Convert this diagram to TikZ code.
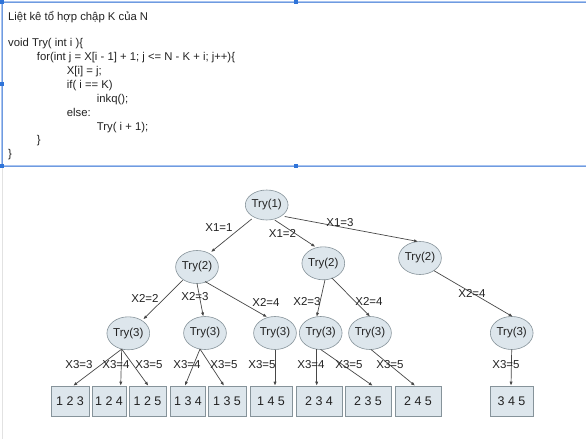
\documentclass[tikz,border=0pt]{standalone}
\usepackage{fontspec}
\setmainfont{Liberation Sans}
\usetikzlibrary{shapes.geometric,arrows.meta}
\definecolor{nodefill}{HTML}{DDE6EC}
\definecolor{nodeline}{HTML}{86939A}
\definecolor{edgecol}{HTML}{474747}
\definecolor{txtcol}{HTML}{222222}
\definecolor{selblue}{HTML}{A9C4F0}
\definecolor{selcore}{HTML}{6F9BE0}
\definecolor{handle}{HTML}{2F74D9}
\definecolor{sideline}{HTML}{E2E2E2}
\tikzset{
  tnode/.style={ellipse, draw=nodeline, line width=0.6pt, fill=nodefill, inner sep=0pt,
    minimum width=42pt, minimum height=33pt, text=txtcol, font=\fontsize{11.5}{13}\selectfont},
  leaf/.style={rectangle, draw=nodeline, line width=0.6pt, fill=nodefill, inner sep=0pt,
    minimum height=30pt, text=txtcol, font=\fontsize{12.5}{14}\selectfont},
  edge/.style={draw=edgecol, line width=0.7pt, -{Latex[length=4pt,width=3.2pt]}},
  elabel/.style={inner sep=0pt, text=txtcol, font=\fontsize{11.5}{13}\selectfont},
  codeline/.style={anchor=base west, inner sep=0pt, text=txtcol, font=\fontsize{11.3}{13}\selectfont},
  hdl/.style={fill=handle, minimum size=4pt, inner sep=0pt, rectangle}
}
\begin{document}
\begin{tikzpicture}[x=1pt,y=-1pt]
\useasboundingbox (0,0) rectangle (586,439);
\fill[white] (0,0) rectangle (586,439);
% side line under box
\draw[sideline, line width=1pt] (2,166) -- (2,439);
% code box
\draw[selblue, line width=2.4pt] (2,2) -- (590,2);
\draw[selblue, line width=2.4pt] (2,166) -- (590,166);
\draw[selblue, line width=2.4pt] (2,2) -- (2,166);
\draw[selcore, line width=0.7pt] (2,2) -- (590,2);
\draw[selcore, line width=0.7pt] (2,166) -- (590,166);
\draw[selcore, line width=0.7pt] (2,2) -- (2,166);
\node[hdl] (h1) at (2,2) {};
\node[hdl] (h2) at (296,2) {};
\node[hdl] (h3) at (2,84) {};
\node[hdl] (h4) at (2,166) {};
\node[hdl] (h5) at (296,166) {};
% code text
\node[codeline] (c1) at (8,20) {Liệt kê tổ hợp chập K của N};
\node[codeline] (c2) at (8,46.6) {void Try( int i )\{};
\node[codeline] (c3) at (36.7,60.5) {for(int j = X[i - 1] + 1; j <= N - K + i; j++)\{};
\node[codeline] (c4) at (66.7,74.4) {X[i] = j;};
\node[codeline] (c5) at (66.7,88.3) {if( i == K)};
\node[codeline] (c6) at (96.7,102.2) {inkq();};
\node[codeline] (c7) at (66.7,116.1) {else:};
\node[codeline] (c8) at (96.7,130) {Try( i + 1);};
\node[codeline] (c9) at (36.7,143.9) {\}};
\node[codeline] (c10) at (8,157.8) {\}};
% tree nodes
\node[tnode, minimum width=41pt, minimum height=30pt] (t1) at (266.7,205) {Try(1)};
\node[tnode] (t2a) at (197,267) {Try(2)};
\node[tnode] (t2b) at (323.3,263.3) {Try(2)};
\node[tnode] (t2c) at (420,258) {Try(2)};
\node[tnode] (t3a) at (128.3,333.3) {Try(3)};
\node[tnode] (t3b) at (205,333) {Try(3)};
\node[tnode] (t3c) at (275,333) {Try(3)};
\node[tnode] (t3d) at (320.7,333) {Try(3)};
\node[tnode] (t3e) at (370,333) {Try(3)};
\node[tnode] (t3f) at (511.7,333) {Try(3)};
% leaves
\node[leaf, minimum width=38pt] (l123) at (70,401) {1 2 3};
\node[leaf, minimum width=34pt] (l124) at (109,401) {1 2 4};
\node[leaf, minimum width=37pt] (l125) at (147.5,401) {1 2 5};
\node[leaf, minimum width=35pt] (l134) at (188,401) {1 3 4};
\node[leaf, minimum width=38pt] (l135) at (227,401) {1 3 5};
\node[leaf, minimum width=42pt] (l145) at (271,401) {1 4 5};
\node[leaf, minimum width=46pt] (l234) at (319,401) {2 3 4};
\node[leaf, minimum width=46pt] (l235) at (368,401) {2 3 5};
\node[leaf, minimum width=46pt] (l245) at (418,401) {2 4 5};
\node[leaf, minimum width=43pt] (l345) at (511.5,401) {3 4 5};
% edges level 1
\draw[edge] ([shift={(-15,14)}]t1.center) -- ([shift={(14,-15)}]t2a.center);
\draw[edge] ([shift={(8,15)}]t1.center) -- ([shift={(-8,-16.5)}]t2b.center);
\draw[edge] ([shift={(18,11.5)}]t1.center) -- ([shift={(-2,-16.5)}]t2c.center);
% edges level 2
\draw[edge] ([shift={(-14,13)}]t2a.center) -- ([shift={(15,-14)}]t3a.center);
\draw[edge] ([shift={(0,16.5)}]t2a.center) -- ([shift={(-1.7,-16.5)}]t3b.center);
\draw[edge] ([shift={(8,14.5)}]t2a.center) -- ([shift={(-8,-16)}]t3c.center);
\draw[edge] ([shift={(1.7,16.5)}]t2b.center) -- ([shift={(-4,-16.3)}]t3d.center);
\draw[edge] ([shift={(8.4,14.5)}]t2b.center) -- ([shift={(0,-16.5)}]t3e.center);
\draw[edge] ([shift={(14,12.7)}]t2c.center) -- ([shift={(1,-16.3)}]t3f.center);
% edges level 3
\draw[edge] ([shift={(-6.6,15.8)}]t3a.center) -- ([xshift=3.3pt]l123.north);
\draw[edge] ([shift={(-6.6,15.8)}]t3a.center) -- ([xshift=11.7pt]l124.north);
\draw[edge] ([shift={(-6.6,15.8)}]t3a.center) -- ([xshift=0.8pt]l125.north);
\draw[edge] ([shift={(-5,16)}]t3b.center) -- ([xshift=-3pt]l134.north);
\draw[edge] ([shift={(-5,16)}]t3b.center) -- ([xshift=-3pt]l135.north);
\draw[edge] ([shift={(0,16.5)}]t3c.center) -- ([xshift=4pt]l145.north);
\draw[edge] ([shift={(-4,16.3)}]t3d.center) -- ([xshift=-2.3pt]l234.north);
\draw[edge] ([shift={(0,16.5)}]t3d.center) -- ([xshift=4.7pt]l235.north);
\draw[edge] ([shift={(1,16.5)}]t3e.center) -- ([xshift=-3pt]l245.north);
\draw[edge] ([shift={(0,16.5)}]t3f.center) -- ([xshift=-0.5pt]l345.north);
% labels
\node[elabel] (x11) at (219,228) {X1=1};
\node[elabel] (x12) at (282.5,233) {X1=2};
\node[elabel] (x13) at (340,223) {X1=3};
\node[elabel] (x22a) at (145,298) {X2=2};
\node[elabel] (x23a) at (195,297) {X2=3};
\node[elabel] (x24a) at (266,302.7) {X2=4};
\node[elabel] (x23b) at (307,301.7) {X2=3};
\node[elabel] (x24b) at (369,301.7) {X2=4};
\node[elabel] (x24c) at (472,293.3) {X2=4};
\node[elabel] (x33a) at (79,365) {X3=3};
\node[elabel] (x34a) at (116,365) {X3=4};
\node[elabel] (x35a) at (149,365) {X3=5};
\node[elabel] (x34b) at (187,365) {X3=4};
\node[elabel] (x35b) at (224,365) {X3=5};
\node[elabel] (x35c) at (262,365) {X3=5};
\node[elabel] (x34d) at (311,365) {X3=4};
\node[elabel] (x35d) at (349,365) {X3=5};
\node[elabel] (x35e) at (390,365) {X3=5};
\node[elabel] (x35f) at (506,365) {X3=5};
\end{tikzpicture}
\end{document}
